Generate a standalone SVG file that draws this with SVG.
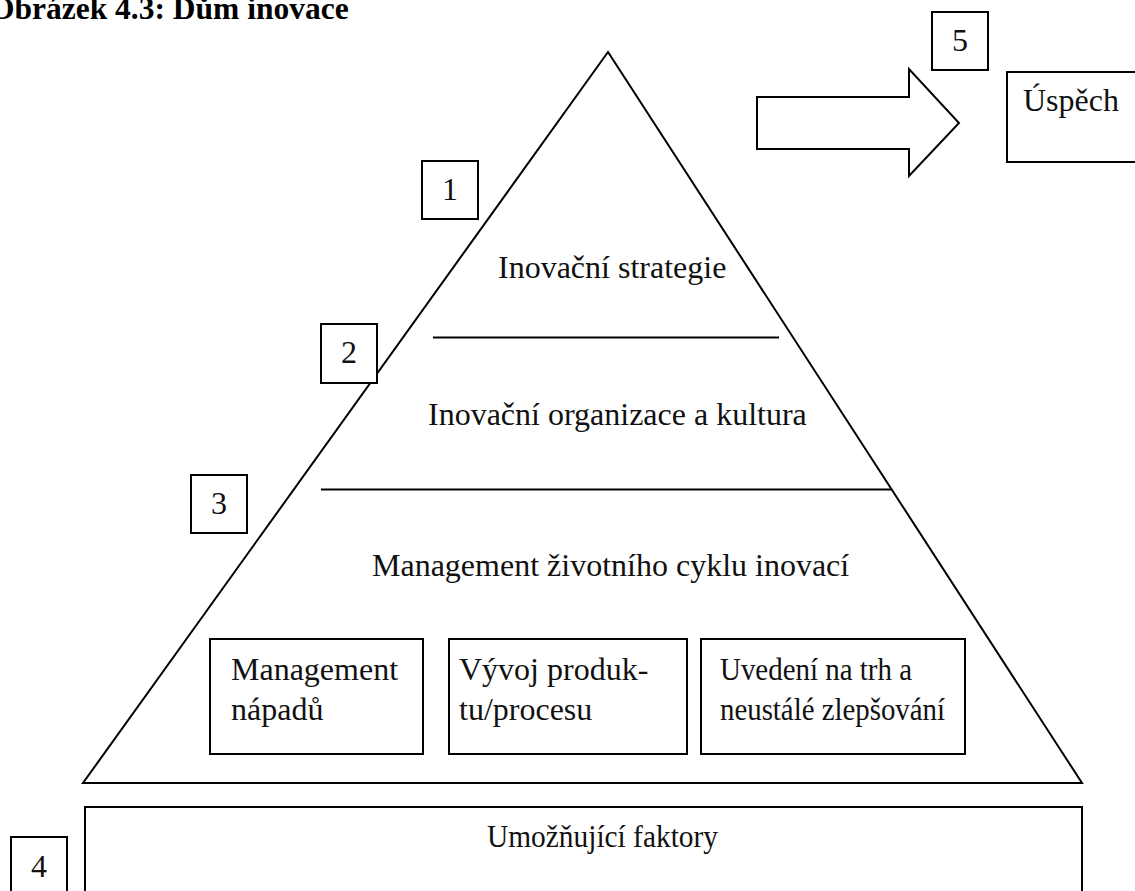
<svg xmlns="http://www.w3.org/2000/svg" width="1135" height="891" viewBox="0 0 1135 891">
  <style>
    .shape { fill: none; stroke: #000; stroke-width: 2; }
    .box { fill: #fff; stroke: #000; stroke-width: 2; }
    .txt { font-family: "Liberation Serif", "Times New Roman", serif; font-size: 32px; fill: #111; }
    .num { text-anchor: middle; }
    .title { font-family: "Liberation Serif", "Times New Roman", serif; font-size: 31.5px; font-weight: bold; fill: #000; }
  </style>
  <rect width="1135" height="891" fill="#fff"/>

  <text class="title" x="-10" y="19">Obrázek 4.3: Dům inovace</text>

  <!-- pyramid with its level dividers -->
  <g id="pyramid">
    <polygon class="shape" points="608,52 83,783 1082,783"/>
    <line class="shape" x1="433" y1="337.5" x2="779" y2="337.5"/>
    <line class="shape" x1="321" y1="489.5" x2="891" y2="489.5"/>
    <text class="txt" x="498" y="278">Inovační strategie</text>
    <text class="txt" x="428" y="425">Inovační organizace a kultura</text>
    <text class="txt" x="372" y="576">Management životního cyklu inovací</text>
  </g>

  <g id="ideas">
    <rect class="box" x="210" y="639" width="213" height="115"/>
    <text class="txt" x="231" y="680">Management</text>
    <text class="txt" x="231" y="720">nápadů</text>
  </g>
  <g id="development">
    <rect class="box" x="449" y="639" width="238" height="115"/>
    <text class="txt" x="459" y="680">Vývoj produk-</text>
    <text class="txt" x="459" y="720">tu/procesu</text>
  </g>
  <g id="launch">
    <rect class="box" x="701" y="639" width="264" height="115"/>
    <text class="txt" x="720" y="680" textLength="192" lengthAdjust="spacingAndGlyphs">Uvedení na trh a</text>
    <text class="txt" x="720" y="720" textLength="225" lengthAdjust="spacingAndGlyphs">neustálé zlepšování</text>
  </g>

  <g id="enablers">
    <rect class="box" x="85" y="807" width="997" height="100"/>
    <text class="txt" x="487" y="847" textLength="231" lengthAdjust="spacingAndGlyphs">Umožňující faktory</text>
  </g>

  <g id="success">
    <rect class="box" x="1007" y="72" width="140" height="90"/>
    <text class="txt" x="1023" y="111">Úspěch</text>
  </g>

  <!-- block arrow towards success -->
  <g id="connectors">
    <polygon class="shape" points="757,97 909,97 909,69 959,123 909,176 909,149 757,149"/>
  </g>

  <!-- numbered markers -->
  <g id="marker-1">
    <rect class="box" x="422" y="161" width="56" height="58"/>
    <text class="txt num" x="450" y="200">1</text>
  </g>
  <g id="marker-2">
    <rect class="box" x="321" y="324" width="56" height="59"/>
    <text class="txt num" x="349" y="363">2</text>
  </g>
  <g id="marker-3">
    <rect class="box" x="191" y="475" width="56" height="58"/>
    <text class="txt num" x="219" y="514">3</text>
  </g>
  <g id="marker-4">
    <rect class="box" x="11" y="837" width="56" height="70"/>
    <text class="txt num" x="39" y="877">4</text>
  </g>
  <g id="marker-5">
    <rect class="box" x="932" y="12" width="56" height="58"/>
    <text class="txt num" x="960" y="51">5</text>
  </g>
</svg>
